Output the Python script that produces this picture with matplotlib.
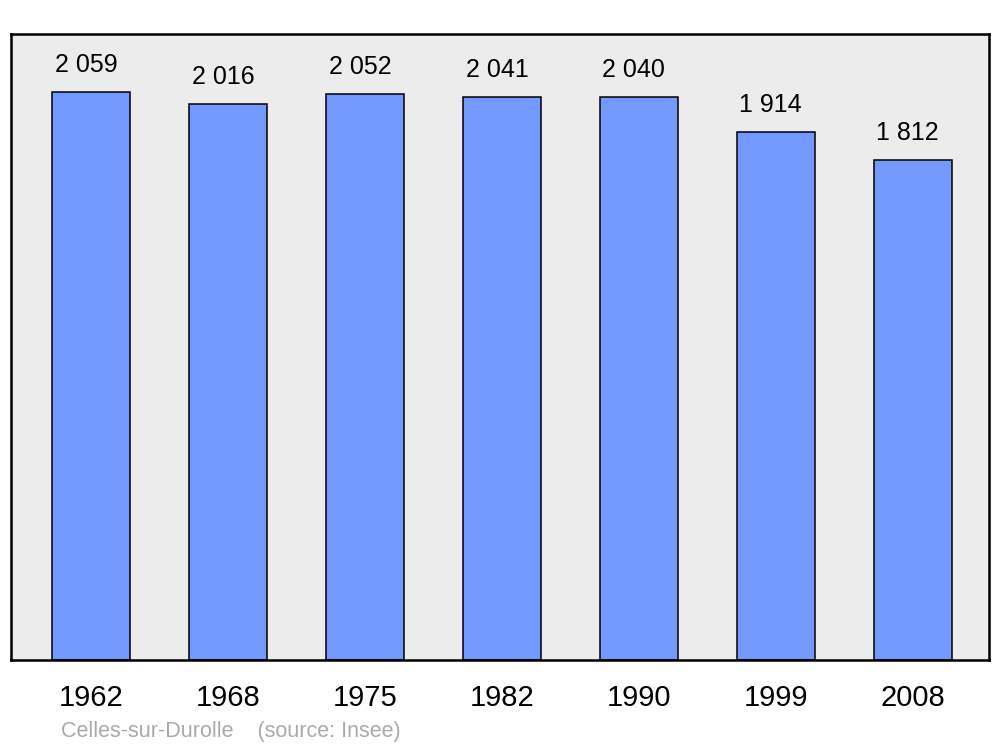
import matplotlib.pyplot as plt

years = ['1962', '1968', '1975', '1982', '1990', '1999', '2008']
population = [2059, 2016, 2052, 2041, 2040, 1914, 1812]
value_labels = ['2 059', '2 016', '2 052', '2 041', '2 040', '1 914', '1 812']

plt.rcParams['font.family'] = ['Liberation Sans', 'DejaVu Sans']

fig = plt.figure(figsize=(10, 7.47), dpi=100)
ax = fig.add_axes([0.011, 0.1165, 0.978, 0.838])
ax.set_facecolor('#ececec')

x = range(len(years))
ax.bar(x, population, width=0.57, color='#7399ff', edgecolor='black', linewidth=1.1, zorder=2)

for i, (v, lab) in enumerate(zip(population, value_labels)):
    ax.annotate(lab, (i, v), xytext=(-3.6, 19.5), textcoords='offset points',
                ha='center', va='center', fontsize=18)

ax.set_xlim(-0.588, 6.558)
ax.set_ylim(0, 2269)
ax.set_xticks(list(x))
ax.set_xticklabels(years, fontsize=21)
ax.tick_params(axis='x', length=0, pad=17)
ax.set_yticks([])
for s in ax.spines.values():
    s.set_linewidth(1.8)

fig.text(0.061, 0.021, 'Celles-sur-Durolle    (source: Insee)', fontsize=15.5, color='#aaaaaa',
         ha='left', va='center')

fig.savefig('out.png', dpi=100)
